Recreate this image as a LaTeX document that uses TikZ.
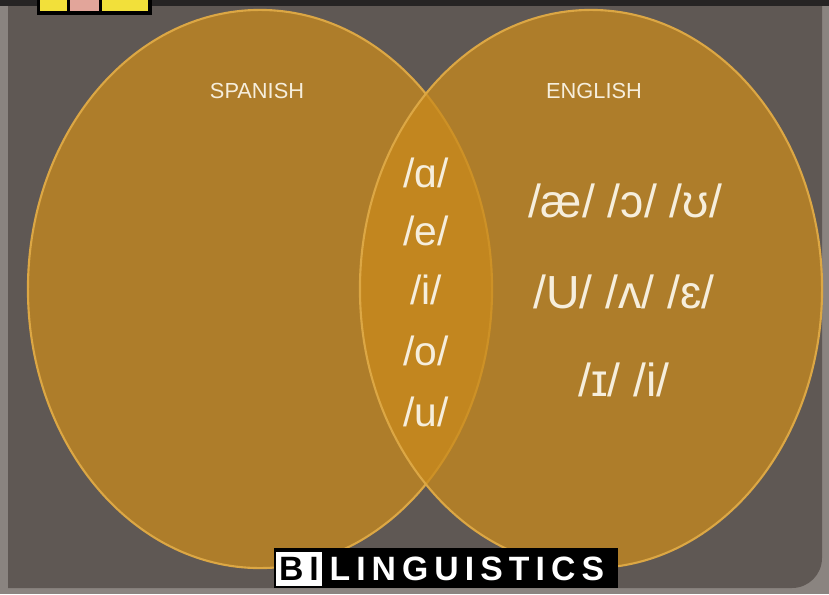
\documentclass[tikz,border=0pt]{standalone}
\usepackage{fontspec}
\setmainfont{Liberation Sans}
\usepackage{xcolor}
\usetikzlibrary{shapes.geometric, positioning}

\definecolor{framegray}{HTML}{8A8480}
\definecolor{topdark}{HTML}{262424}
\definecolor{panelgray}{HTML}{5F5854}
\definecolor{venngold}{HTML}{C98A1C}
\definecolor{rimgold}{HTML}{DCA744}
\definecolor{labelwhite}{HTML}{F6EEDC}
\definecolor{badgeyellow}{HTML}{F2E03A}
\definecolor{badgepink}{HTML}{E2A59A}

\tikzset{
  venn/.style={ellipse, inner sep=0pt, fill=venngold, fill opacity=0.75,
    draw=rimgold, line width=1.5pt},
  langlabel/.style={text=labelwhite, font=\fontsize{15.5}{18}\selectfont},
  vowel/.style={text=labelwhite, font=\fontsize{29}{32}\selectfont},
  engvowel/.style={text=labelwhite, font=\fontsize{33}{36}\selectfont},
  logotext/.style={font=\bfseries\addfontfeatures{LetterSpace=18}\fontsize{24}{26}\selectfont,
    inner sep=0pt}
}

\begin{document}
\begin{tikzpicture}[x=0.025cm, y=-0.025cm]

  \useasboundingbox (0,0) rectangle (829,594);

  % Hintergrund und Folie
  \fill[framegray] (0,0) rectangle (829,594);
  \fill[topdark] (0,0) rectangle (829,6);
  \fill[panelgray] (8,6) -- (822,6) [rounded corners=0.75cm] -- (822,588)
    [sharp corners] -- (8,588) -- cycle;

  % kleine Leiste oben links
  \fill[black] (37,0) rectangle (152,15);
  \fill[badgeyellow] (40,0) rectangle (67,11);
  \fill[badgepink] (70,0) rectangle (99,11);
  \fill[badgeyellow] (102,0) rectangle (148,11);

  % die zwei Mengen
  \node[venn, minimum width=11.6cm, minimum height=13.95cm] (spanish) at (260,289) {};
  \node[venn, minimum width=11.55cm, minimum height=13.95cm] (english) at (591,289) {};

  % Ueberschriften
  \node[langlabel] (spanishlbl) at (257,91) {SPANISH};
  \node[langlabel] (englishlbl) at (594,91) {ENGLISH};

  % gemeinsame Vokale in der Schnittmenge
  \foreach \v/\y [count=\i] in {ɑ/173, e/231, i/290, o/351, u/412}
    \node[vowel] (common\i) at (426,\y) {/\v/};

  % nur im Englischen
  \node[engvowel] (eng1) at (625,201) {/æ/ /ɔ/ /ʊ/};
  \node[engvowel] (eng2) at (624,292) {/U/ /ʌ/ /ɛ/};
  \node[engvowel] (eng3) at (624,380) {/ɪ/ /i/};

  % Logo unten
  \node[fill=black, minimum width=8.6cm, minimum height=1cm, inner sep=0pt] (logo) at (446,568) {};
  \node[fill=white, minimum width=1.15cm, minimum height=0.87cm, inner sep=0pt] (bibox) at (299,569) {};
  \node[logotext, text=black] (bi) at (bibox) {BI};
  \node[logotext, text=white, right=5pt of bibox] (ling) {LINGUISTICS};

\end{tikzpicture}
\end{document}
